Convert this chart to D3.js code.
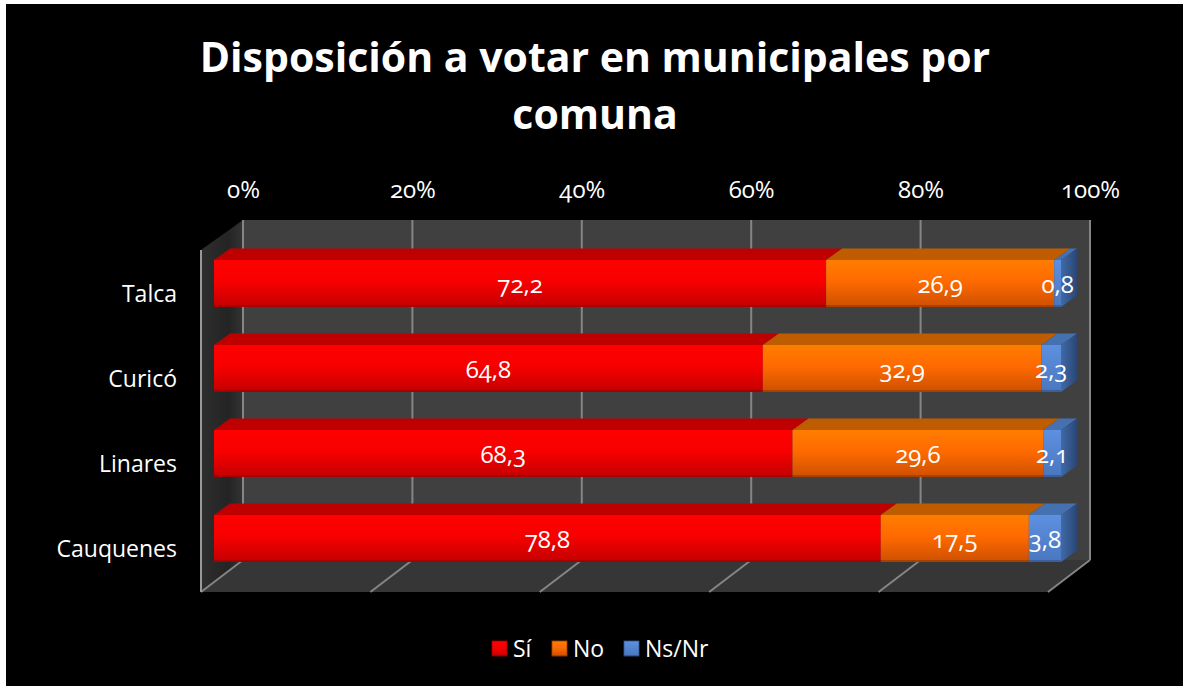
<!DOCTYPE html>
<html>
<head>
<meta charset="utf-8">
<script src="https://cdn.jsdelivr.net/npm/d3@7"></script>
<style>
    html, body { margin: 0; padding: 0; background: #fff; }
    svg { display: block; }
    text { font-family: "Open Sans", "Noto Sans", sans-serif; fill: #fff; font-feature-settings: "onum" 1; }
</style>
</head>
<body>
<div id="chart"></div>
<script>
var categories = ["Talca", "Curicó", "Linares", "Cauquenes"];
var si = [72.2, 64.8, 68.3, 78.8];
var no = [26.9, 32.9, 29.6, 17.5];
var nsnr = [0.8, 2.3, 2.1, 3.8];
var seriesNames = ["Sí", "No", "Ns/Nr"];
var xTicks = [0, 0.2, 0.4, 0.6, 0.8, 1];
var titleLines = ["Disposición a votar en municipales por", "comuna"];

var colors = {
    "Sí": { top: "#bf0000", stops: ["#ff0000", "#f80000", "#c80000", "#a80000"], side: "#a00000" },
    "No": { top: "#bf5c00", stops: ["#ff7d00", "#ff6a00", "#d25200", "#a84000"], side: "#a84000" },
    "Ns/Nr": { top: "#4571b0", stops: ["#5c90e0", "#5585d2", "#4a78c0", "#3a5f9c"], side: "#34598f" }
};

var width = 1183, height = 686;
var plotW = 847;
var wallH = 340;
var frontLeft = 201, frontTop = 252;   // front edge of the floor / left wall
var depthX = 42, depthY = 32;          // how far back the wall sits
var barX = 13, barY = 11;              // bars sit a bit behind the front plane
var barDX = 16, barDY = 11.5;          // depth of the bars themselves

var rows = categories.map(function (c, i) {
    return { name: c, "Sí": si[i], "No": no[i], "Ns/Nr": nsnr[i] };
});
var stacked = d3.stack().keys(seriesNames).offset(d3.stackOffsetExpand)(rows);

var x = d3.scaleLinear().domain([0, 1]).range([0, plotW]);
var y = d3.scaleBand().domain(categories).range([0, wallH])
    .paddingInner(38 / 85).paddingOuter(19 / 85);
var comma = d3.formatLocale({ decimal: ",", thousands: ".", grouping: [3], currency: ["", ""] }).format(".1f");

var svg = d3.select("#chart").append("svg").attr("width", width).attr("height", height);
var defs = svg.append("defs");

seriesNames.forEach(function (s, i) {
    var g = defs.append("linearGradient").attr("id", "front" + i).attr("x1", 0).attr("x2", 0).attr("y1", 0).attr("y2", 1);
    var st = colors[s].stops;
    g.append("stop").attr("offset", "0").attr("stop-color", st[0]);
    g.append("stop").attr("offset", "0.45").attr("stop-color", st[1]);
    g.append("stop").attr("offset", "0.95").attr("stop-color", st[2]);
    g.append("stop").attr("offset", "0.96").attr("stop-color", st[3]);
    g.append("stop").attr("offset", "1").attr("stop-color", st[3]);
});
var sideGrad = defs.append("linearGradient").attr("id", "blueSide").attr("x1", 0).attr("x2", 1).attr("y1", 0).attr("y2", 0);
sideGrad.append("stop").attr("offset", "0").attr("stop-color", "#3f6aa8");
sideGrad.append("stop").attr("offset", "1").attr("stop-color", "#2a4674");

var wallGrad = defs.append("linearGradient").attr("id", "leftWall").attr("x1", 0).attr("x2", 1).attr("y1", 0).attr("y2", 0);
wallGrad.append("stop").attr("offset", "0").attr("stop-color", "#2e2e2e");
wallGrad.append("stop").attr("offset", "0.65").attr("stop-color", "#242424");
wallGrad.append("stop").attr("offset", "1").attr("stop-color", "#333333");

function pts(a) {
    return a.map(function (p) { return p.join(","); }).join(" ");
}

// black chart area, the white edge of the page shows on the left and top
svg.append("rect").attr("x", 6).attr("y", 4).attr("width", width - 6).attr("height", height - 4).attr("fill", "#000");

svg.append("g").attr("class", "title")
    .selectAll("text").data(titleLines).enter().append("text")
    .attr("x", 595)
    .attr("y", function (d, i) { return 72 + i * 57; })
    .attr("text-anchor", "middle")
    .style("font-size", "41px")
    .style("font-weight", "700")
    .text(function (d) { return d; });

var plot = svg.append("g").attr("transform", "translate(" + frontLeft + "," + frontTop + ")");

// back wall, floor, left wall
plot.append("polygon").attr("fill", "#404040")
    .attr("points", pts([[depthX, -depthY], [depthX + x(1), -depthY], [depthX + x(1), wallH - depthY], [depthX, wallH - depthY]]));
plot.append("polygon").attr("fill", "#363636")
    .attr("points", pts([[0, wallH], [depthX, wallH - depthY], [depthX + x(1), wallH - depthY], [x(1), wallH]]));
plot.append("polygon").attr("fill", "url(#leftWall)")
    .attr("points", pts([[0, -2], [depthX, -depthY], [depthX, wallH - depthY], [0, wallH]]));

// grid lines on the wall and the floor
var grid = plot.append("g").attr("stroke", "#858585").attr("stroke-width", 2).attr("fill", "none");
grid.selectAll(".wall-line").data(xTicks).enter().append("line")
    .attr("class", "wall-line")
    .attr("x1", function (d) { return depthX + x(d); })
    .attr("x2", function (d) { return depthX + x(d); })
    .attr("y1", -depthY).attr("y2", wallH - depthY);
grid.selectAll(".floor-line").data(xTicks).enter().append("line")
    .attr("class", "floor-line")
    .attr("x1", function (d) { return depthX + x(d); })
    .attr("x2", function (d) { return x(d); })
    .attr("y1", wallH - depthY).attr("y2", wallH);
grid.append("line").attr("x1", 0).attr("x2", 0).attr("y1", -2).attr("y2", wallH).attr("stroke", "#999");

// bars, series by series
var bars = plot.append("g").attr("transform", "translate(" + barX + "," + (-barY) + ")");
var band = y.bandwidth();
stacked.forEach(function (layer, si_) {
    var s = seriesNames[si_];
    var g = bars.append("g").attr("class", "series");
    g.selectAll(".top").data(layer).enter().append("polygon")
        .attr("class", "top")
        .attr("fill", colors[s].top)
        .attr("points", function (d) {
            var yy = y(d.data.name);
            return pts([[x(d[0]), yy], [x(d[0]) + barDX, yy - barDY], [x(d[1]) + barDX, yy - barDY], [x(d[1]), yy]]);
        });
    if (si_ === stacked.length - 1) {
        g.selectAll(".side").data(layer).enter().append("polygon")
            .attr("class", "side")
            .attr("fill", "url(#blueSide)")
            .attr("points", function (d) {
                var yy = y(d.data.name);
                return pts([[x(d[1]), yy], [x(d[1]) + barDX, yy - barDY], [x(d[1]) + barDX, yy + band - barDY], [x(d[1]), yy + band]]);
            });
    }
    g.selectAll(".front").data(layer).enter().append("rect")
        .attr("class", "front")
        .attr("x", function (d) { return x(d[0]); })
        .attr("y", function (d) { return y(d.data.name); })
        .attr("width", function (d) { return x(d[1]) - x(d[0]); })
        .attr("height", band)
        .attr("fill", "url(#front" + si_ + ")");
});

// value labels go on top of every bar
stacked.forEach(function (layer, si_) {
    bars.append("g").attr("class", "values")
        .selectAll("text").data(layer).enter().append("text")
        .attr("x", function (d) { return x((d[0] + d[1]) / 2); })
        .attr("y", function (d) { return y(d.data.name) + band / 2 + 3; })
        .attr("text-anchor", "middle")
        .attr("dominant-baseline", "middle")
        .style("font-size", "24px")
        .text(function (d) { return comma(d.data[seriesNames[si_]]); });
});

// top axis labels, lined up with the back wall
var xAxis = svg.append("g")
    .attr("transform", "translate(" + (frontLeft + depthX) + ",198)")
    .call(d3.axisTop(x).tickValues(xTicks).tickSize(0).tickPadding(0).tickFormat(d3.format(".0%")));
xAxis.select(".domain").remove();
xAxis.selectAll("text").style("font-size", "24px").style("font-family", null).attr("fill", null);

// category labels
var yAxis = svg.append("g")
    .attr("transform", "translate(177," + frontTop + ")")
    .call(d3.axisLeft(y).tickSize(0).tickPadding(0));
yAxis.select(".domain").remove();
yAxis.selectAll("text").style("font-size", "23px").style("font-family", null).attr("fill", null);

// legend
var legendX = d3.scaleOrdinal().domain(seriesNames).range([492, 552, 624]);
var legend = svg.append("g").attr("class", "legend");
var item = legend.selectAll("g").data(seriesNames).enter().append("g")
    .attr("transform", function (d) { return "translate(" + legendX(d) + ",641)"; });
item.append("rect").attr("width", 15).attr("height", 15)
    .attr("fill", function (d, i) { return "url(#front" + i + ")"; })
    .attr("stroke", function (d) { return colors[d].side; })
    .attr("stroke-width", 0.8);
item.append("text")
    .attr("x", 21).attr("y", 16)
    .style("font-size", "23px")
    .text(function (d) { return d; });
</script>
</body>
</html>
